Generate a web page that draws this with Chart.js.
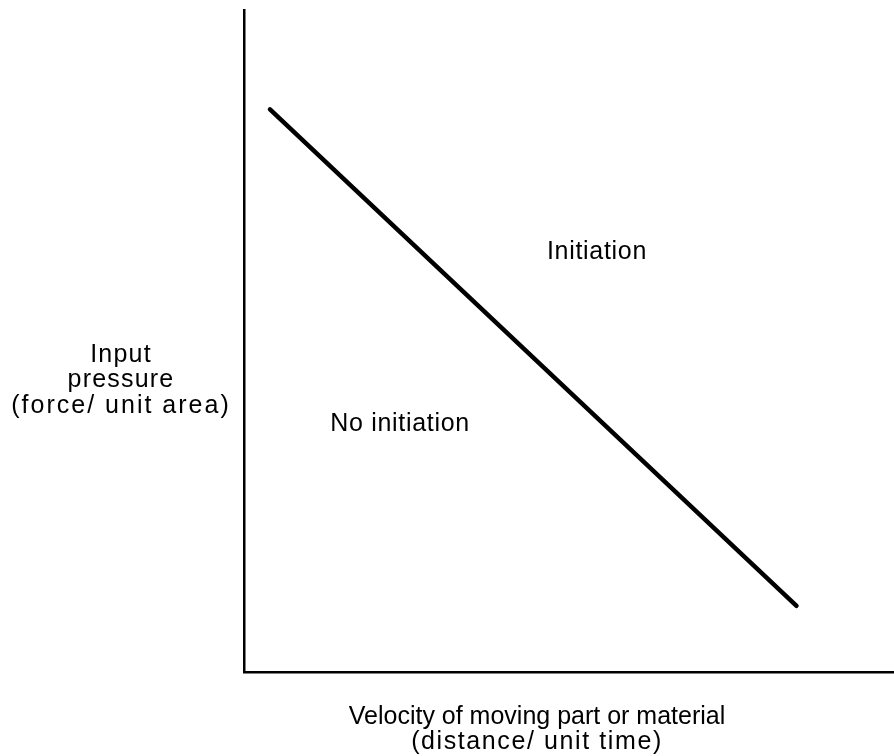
<!DOCTYPE html>
<html>
<head>
<meta charset="utf-8">
<script src="https://cdn.jsdelivr.net/npm/chart.js@4"></script>
<style>
  body { margin: 0; background: #fff; }
  canvas { display: block; }
</style>
</head>
<body>
<canvas id="chart" width="894" height="756"></canvas>
<script>
// boundary line (velocity, pressure) in arbitrary units
const velocity = [4, 85];
const pressure = [85, 10];

// region labels and where they sit (data units)
const regionLabels = ['Initiation', 'No initiation'];
const regionX = [54.3, 24];
const regionY = [63.5, 37.5];

const xTitle = ['Velocity of moving part or material', '(distance/ unit time)'];
const yTitle = ['Input', 'pressure', '(force/ unit area)'];

const FAMILY = '"Liberation Sans", Arial, sans-serif';

// draws the free text: region names and the horizontal axis titles
const textPlugin = {
    id: 'texts',
    afterDraw(chart) {
        const ctx = chart.ctx;
        const x = chart.scales.x;
        const y = chart.scales.y;
        const area = chart.chartArea;
        ctx.save();
        ctx.fillStyle = '#000';
        ctx.textAlign = 'center';
        ctx.textBaseline = 'middle';
        ctx.font = '25px ' + FAMILY;
        ctx.letterSpacing = '0.7px';
        regionLabels.forEach((t, i) => {
            ctx.fillText(t, x.getPixelForValue(regionX[i]), y.getPixelForValue(regionY[i]));
        });
        // x title under the axis
        xTitle.forEach((t, i) => {
            ctx.letterSpacing = i ? '1.6px' : '0px';
            ctx.fillText(t, 537, area.bottom + 45 + i * 25);
        });
        // y title left of the axis, horizontal
        yTitle.forEach((t, i) => {
            ctx.letterSpacing = i === 2 ? '2px' : '1.2px';
            ctx.fillText(t, 121, 355 + i * 25.5);
        });
        ctx.restore();
    }
};

new Chart(document.getElementById('chart'), {
    type: 'scatter',
    data: {
        datasets: [{
            data: velocity.map((v, i) => ({ x: v, y: pressure[i] })),
            showLine: true,
            borderColor: '#000',
            borderWidth: 4.5,
            pointRadius: 0,
            borderCapStyle: 'round'
        }]
    },
    options: {
        responsive: false,
        devicePixelRatio: 1,
        animation: false,
        layout: { padding: { top: 10, right: 0, left: 0, bottom: 0 } },
        plugins: {
            legend: { display: false },
            tooltip: { enabled: false }
        },
        scales: {
            x: {
                type: 'linear',
                min: 0,
                max: 100,
                ticks: { display: false },
                grid: { display: false },
                border: { color: '#000', width: 2.5 },
                afterFit: s => { s.height = 84; }
            },
            y: {
                type: 'linear',
                min: 0,
                max: 100,
                ticks: { display: false },
                grid: { display: false },
                border: { color: '#000', width: 2.5 },
                afterFit: s => { s.width = 244; }
            }
        }
    },
    plugins: [textPlugin]
});
</script>
</body>
</html>
